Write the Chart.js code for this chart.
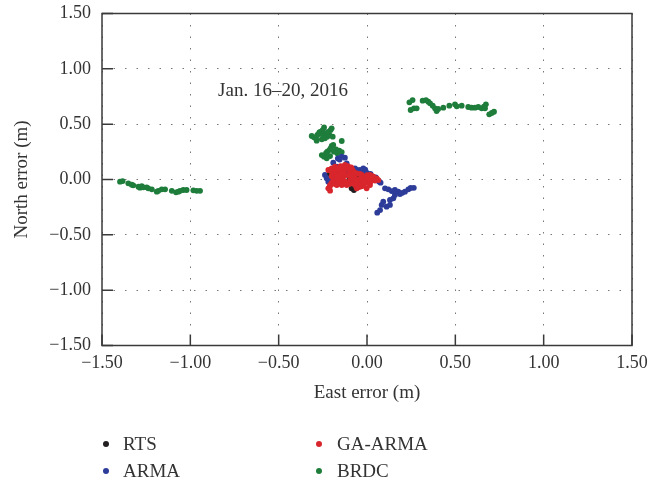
<!DOCTYPE html>
<html>
<head>
<meta charset="utf-8">
<script src="https://cdn.jsdelivr.net/npm/chart.js@4.4.1/dist/chart.umd.min.js"></script>
<style>
  html, body { margin: 0; padding: 0; background: #fff; }
  #wrap { position: relative; width: 662px; height: 481px; }
  #c { position: absolute; left: 0; top: 0; }
  .lg { position: absolute; font-family: "Liberation Serif", serif; font-size: 19px; color: #333; line-height: 20px; white-space: nowrap; }
  .dot { position: absolute; width: 6px; height: 6px; border-radius: 50%; }
</style>
</head>
<body>
<div id="wrap">
  <canvas id="c" width="662" height="481"></canvas>
</div>
<script>
// ---- data ----
const seriesNames = ["RTS", "GA-ARMA", "ARMA", "BRDC"];
const seriesColors = ["#231f20", "#d8262c", "#2e3c99", "#1f7d3c"];

const tickValues = [-1.5, -1.0, -0.5, 0.0, 0.5, 1.0, 1.5];
const xTickLabels = ["\u22121.50", "\u22121.00", "\u22120.50", "0.00", "0.50", "1.00", "1.50"];
const yTickLabels = ["\u22121.50", "\u22121.00", "\u22120.50", "0.00", "0.50", "1.00", "1.50"];

const annotationText = "Jan. 16\u201320, 2016";
const annotationPos = [-0.843, 0.80];

const rtsE = [-0.209, -0.074, -0.087, -0.15, -0.10, -0.05, -0.12, -0.18, -0.06, -0.02, 0.01, -0.14, -0.09, -0.16];
const rtsN = [0.056, -0.095, -0.080, 0.03, 0.00, 0.02, -0.03, 0.05, -0.05, 0.00, -0.01, 0.08, 0.07, -0.01];

const gaE = [-0.219, -0.200, -0.181, -0.162, -0.143, -0.125, -0.106, -0.087, -0.191, -0.171, -0.153, -0.134, -0.115,
  -0.162, -0.143, -0.125, -0.181, -0.209, -0.219, -0.209, -0.191, -0.096, -0.078, -0.068, -0.058, -0.040, -0.021,
  -0.011, -0.002, 0.017, 0.036, 0.055, 0.064, 0.008, -0.040, -0.030, -0.058, -0.096, -0.115, -0.143, -0.171, -0.002, 0.017,
  -0.20, -0.18, -0.16, -0.14, -0.12, -0.10, -0.08, -0.20, -0.19, -0.17, -0.15, -0.13, -0.11, -0.09, -0.07, -0.05, -0.03,
  -0.01, 0.01, 0.03, 0.045, -0.20, -0.18, -0.16, -0.14, -0.12, -0.10, -0.08, -0.06, -0.04, -0.02, 0.00, 0.02, -0.21,
  -0.05, -0.03, -0.07, -0.04, 0.00, 0.03, -0.15, -0.11, -0.09];
const gaN = [0.086, 0.101, 0.116, 0.086, 0.116, 0.131, 0.116, 0.101, 0.056, 0.041, 0.056, 0.025, 0.041,
  0.011, -0.005, -0.020, -0.020, -0.050, -0.080, -0.101, -0.035, -0.005, -0.020, -0.050, -0.080, -0.065, -0.050,
  -0.020, 0.025, 0.041, 0.025, 0.011, -0.005, -0.020, -0.005, 0.041, 0.056, 0.056, -0.050, -0.050, -0.050, -0.080, -0.050,
  0.07, 0.09, 0.10, 0.09, 0.10, 0.09, 0.08, 0.03, 0.00, 0.02, 0.04, 0.06, 0.04, 0.03, 0.02, 0.00, 0.01,
  0.00, 0.01, 0.00, -0.01, -0.03, -0.04, -0.03, -0.04, -0.03, -0.04, -0.03, -0.04, -0.03, -0.04, -0.03, -0.02, -0.06,
  -0.07, -0.06, 0.06, 0.05, 0.04, 0.03, 0.12, 0.12, 0.11];

const armaE = [-0.143, -0.125, -0.191, -0.115, -0.238, -0.228, -0.219, -0.209, -0.171, -0.134, -0.096, -0.068, -0.040,
  -0.021, -0.011, -0.049, -0.078, -0.115, 0.008, 0.036, 0.064, 0.077, 0.102, 0.121, 0.158, 0.177, 0.187, 0.215, 0.234,
  0.247, 0.149, 0.130, 0.092, 0.083, 0.074, 0.058, 0.111, 0.130, 0.158, -0.06, -0.03, -0.01, 0.00, -0.05, 0.02, 0.05,
  0.07, -0.22, -0.20, -0.165, -0.155, 0.265, 0.20, 0.14];
const armaN = [0.206, 0.197, 0.152, 0.146, 0.041, 0.011, -0.020, 0.086, 0.116, 0.101, 0.086, 0.101, 0.086,
  0.101, 0.056, 0.025, 0.041, 0.056, 0.011, 0.002, -0.011, -0.029, -0.080, -0.089, -0.095, -0.110, -0.131, -0.110, -0.089,
  -0.077, -0.170, -0.185, -0.201, -0.230, -0.276, -0.300, -0.246, -0.230, -0.140, 0.09, 0.07, 0.09, 0.06, 0.04, 0.05, 0.02,
  -0.02, 0.03, -0.01, 0.19, 0.18, -0.075, -0.12, -0.105];

const brdcE = [-1.398, -1.383, -1.351, -1.332, -1.323, -1.294, -1.285, -1.275, -1.266, -1.247, -1.238, -1.218, -1.190,
  -1.181, -1.162, -1.143, -1.105, -1.081, -1.068, -1.058, -1.040, -1.021, -0.983, -0.964, -0.945,
  0.240, 0.258, 0.247, 0.266, 0.281, 0.315, 0.334, 0.347, 0.357, 0.372, 0.385, 0.394, 0.403, 0.432, 0.466, 0.498,
  0.508, 0.536, 0.573, 0.592, 0.611, 0.630, 0.649, 0.662, 0.673, 0.668, 0.692, 0.706, 0.719,
  -0.313, -0.300, -0.289, -0.281, -0.270, -0.262, -0.251, -0.243, -0.232, -0.225, -0.213, -0.206, -0.200, -0.194,
  -0.285, -0.256, -0.238, -0.143, -0.27, -0.22, -0.25,
  -0.256, -0.243, -0.232, -0.225, -0.213, -0.206, -0.200, -0.191, -0.187, -0.175, -0.168, -0.157, -0.143, -0.209, -0.228];
const brdcN = [-0.020, -0.014, -0.035, -0.047, -0.053, -0.065, -0.074, -0.059, -0.071, -0.071, -0.080, -0.089, -0.110,
  -0.102, -0.089, -0.089, -0.102, -0.116, -0.110, -0.102, -0.095, -0.095, -0.098, -0.102, -0.102,
  0.697, 0.718, 0.628, 0.643, 0.643, 0.712, 0.718, 0.703, 0.688, 0.667, 0.643, 0.619, 0.637, 0.649, 0.667, 0.679,
  0.661, 0.667, 0.655, 0.649, 0.649, 0.655, 0.643, 0.658, 0.679, 0.643, 0.589, 0.601, 0.612,
  0.393, 0.381, 0.372, 0.402, 0.417, 0.432, 0.447, 0.471, 0.417, 0.387, 0.402, 0.447, 0.462, 0.387,
  0.351, 0.363, 0.372, 0.348, 0.425, 0.43, 0.40,
  0.221, 0.206, 0.237, 0.251, 0.266, 0.282, 0.303, 0.312, 0.251, 0.273, 0.237, 0.260, 0.248, 0.212, 0.191];

// ---- build ----
function pts(xs, ys) { return xs.map((x, i) => ({ x: x, y: ys[i] })); }
const FONT = "'Liberation Serif', 'Times New Roman', serif";
const TEXT = "#333";

const mk = (idx, xs, ys) => ({
  label: seriesNames[idx],
  data: pts(xs, ys),
  backgroundColor: seriesColors[idx],
  borderWidth: 0,
  pointRadius: 2.9,
  pointHoverRadius: 2.9,
  showLine: false
});

const framePlugin = {
  id: 'frame',
  afterDraw(chart) {
    const { ctx, chartArea: a, scales } = chart;
    ctx.save();
    ctx.strokeStyle = "#3a3a3a";
    ctx.lineWidth = 1.5;
    ctx.strokeRect(a.left, a.top, a.right - a.left, a.bottom - a.top);
    ctx.beginPath();
    tickValues.forEach(v => {
      const px = scales.x.getPixelForValue(v);
      ctx.moveTo(px, a.bottom); ctx.lineTo(px, a.bottom - 11);
      const py = scales.y.getPixelForValue(v);
      ctx.moveTo(a.left, py); ctx.lineTo(a.left + 11, py);
    });
    ctx.stroke();
    ctx.fillStyle = TEXT;
    ctx.font = "19px " + FONT;
    ctx.textBaseline = "middle";
    ctx.textAlign = "left";
    ctx.fillText(annotationText, scales.x.getPixelForValue(annotationPos[0]), scales.y.getPixelForValue(annotationPos[1]));
    ctx.restore();
  }
};

const gridOpts = { color: "#777", lineWidth: 1, drawTicks: false };
const borderOpts = { display: false, dash: [1.5, 10] };

new Chart(document.getElementById('c'), {
  type: 'scatter',
  data: {
    datasets: [
      mk(1, gaE, gaN),
      mk(0, rtsE, rtsN),
      mk(2, armaE, armaN),
      mk(3, brdcE, brdcN)
    ]
  },
  options: {
    responsive: false,
    animation: false,
    devicePixelRatio: 1,
    layout: { padding: { left: 0, top: 13.5, right: 30, bottom: 70.5 } },
    plugins: { legend: { display: false }, tooltip: { enabled: false } },
    scales: {
      x: {
        type: 'linear', min: -1.5, max: 1.5,
        afterFit(s) { s.height = 65; s.paddingLeft = 0; s.paddingRight = 0; },
        grid: gridOpts, border: borderOpts,
        ticks: {
          stepSize: 0.5, padding: 7, color: TEXT, maxRotation: 0, autoSkip: false,
          font: { family: FONT, size: 18 },
          callback: (v) => { const i = tickValues.findIndex(t => Math.abs(t - v) < 1e-9); return i >= 0 ? xTickLabels[i] : ''; }
        },
        title: { display: true, text: "East error (m)", color: TEXT, font: { family: FONT, size: 19 }, padding: { top: 4, bottom: 6 } }
      },
      y: {
        type: 'linear', min: -1.5, max: 1.5,
        afterFit(s) { s.width = 102; s.paddingTop = 0; s.paddingBottom = 0; },
        grid: gridOpts, border: borderOpts,
        ticks: {
          stepSize: 0.5, padding: 11, color: TEXT, autoSkip: false,
          font: { family: FONT, size: 18 },
          callback: (v) => { const i = tickValues.findIndex(t => Math.abs(t - v) < 1e-9); return i >= 0 ? yTickLabels[i] : ''; }
        },
        title: { display: true, text: "North error (m)", color: TEXT, font: { family: FONT, size: 19 }, padding: { top: 11, bottom: 4 } }
      }
    }
  },
  plugins: [framePlugin]
});

// ---- legend (HTML, two columns) ----
const legendLayout = [[106, 444, 123], [319, 444, 337], [106, 471, 123], [319, 471, 337]];
const legendOrder = [0, 1, 2, 3]; // RTS, GA-ARMA, ARMA, BRDC
const wrap = document.getElementById('wrap');
legendOrder.forEach((si, k) => {
  const [dx, dy, tx] = legendLayout[k];
  const d = document.createElement('div');
  d.className = 'dot';
  d.style.left = (dx - 3) + 'px';
  d.style.top = (dy - 3) + 'px';
  d.style.background = seriesColors[si];
  wrap.appendChild(d);
  const t = document.createElement('div');
  t.className = 'lg';
  t.style.left = tx + 'px';
  t.style.top = (dy - 10) + 'px';
  t.textContent = seriesNames[si];
  wrap.appendChild(t);
});
</script>
</body>
</html>
